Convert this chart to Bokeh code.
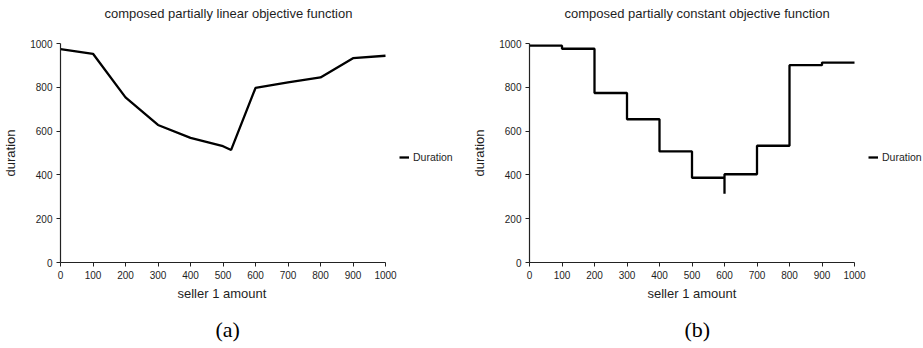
from bokeh.plotting import figure
from bokeh.layouts import row
from bokeh.models import (Range1d, FixedTicker, Legend, LegendItem, Title)
from bokeh.embed import file_html
from bokeh.resources import INLINE

# ---- data ----
lin_x = [0, 100, 200, 300, 400, 500, 525, 600, 700, 800, 900, 1000]
lin_y = [974, 953, 754, 628, 569, 531, 514, 797, 822, 845, 933, 944]

step_edges = [0, 100, 200, 300, 400, 500, 600, 700, 800, 900, 1000]
step_levels = [990, 976, 774, 654, 507, 387, 403, 533, 901, 913]
spike_x = 600
spike_y = 314

x_ticks = [0, 100, 200, 300, 400, 500, 600, 700, 800, 900, 1000]
y_ticks = [0, 200, 400, 600, 800, 1000]

titles = ["composed partially linear objective function",
          "composed partially constant objective function"]
captions = ["(a)", "(b)"]
x_label = "seller 1 amount"
y_label = "duration"
series_name = "Duration"

# build step vertices from the levels
sx, sy = [], []
for i, lvl in enumerate(step_levels):
    x0, x1 = step_edges[i], step_edges[i + 1]
    sx += [x0, x1]
    sy += [lvl, lvl]
    if x1 == spike_x:
        sx.append(spike_x)
        sy.append(spike_y)

FONT = "Liberation Sans"
TXT = "#1e1e1e"

AX_W = 325.0    # pixels spanned by 0..1000 on x
TOP = 43
FRAME_H = 219


def make_fig(xs, ys, title, caption, left, total_w, title_off, xlab_off):
    frame_w = total_w - left
    p = figure(width=total_w, height=348, output_backend="svg",
               toolbar_location=None,
               x_range=Range1d(0, 1000 * frame_w / AX_W),
               y_range=Range1d(0, 1000),
               frame_width=frame_w, frame_height=FRAME_H,
               min_border_left=left, min_border_right=0,
               min_border_top=TOP, min_border_bottom=348 - TOP - FRAME_H)
    p.title = None
    p.outline_line_color = None
    p.xgrid.visible = False
    p.ygrid.visible = False
    p.background_fill_color = "white"
    p.border_fill_color = "white"
    for ax, ticks in ((p.xaxis[0], x_ticks), (p.yaxis[0], y_ticks)):
        ax.ticker = FixedTicker(ticks=ticks)
        ax.bounds = (0, 1000)
        ax.minor_tick_line_color = None
        ax.major_tick_in = 0
        ax.major_tick_out = 4
        ax.axis_line_color = "#222222"
        ax.axis_line_width = 1.2
        ax.major_tick_line_color = "#222222"
        ax.major_tick_line_width = 1
        ax.major_label_text_font = FONT
        ax.major_label_text_font_size = "10px"
        ax.major_label_text_color = TXT
        ax.axis_label_text_font = FONT
        ax.axis_label_text_font_size = "13px"
        ax.axis_label_text_font_style = "normal"
        ax.axis_label_text_color = TXT
    p.yaxis.axis_label = y_label
    p.xaxis.major_label_standoff = 4
    p.yaxis.major_label_standoff = 4
    p.yaxis.axis_label_standoff = 9

    r = p.line(xs, ys, line_color="black", line_width=2.3)

    legend = Legend(items=[LegendItem(label=series_name, renderers=[r])],
                    location=(339, 98), margin=0, padding=0,
                    glyph_width=10, glyph_height=14, label_height=14,
                    label_standoff=4, border_line_color=None,
                    background_fill_alpha=0,
                    label_text_font=FONT, label_text_font_size="10.5px",
                    label_text_color=TXT)
    p.add_layout(legend)

    # above: spacer nearest the frame, then the chart title
    p.add_layout(Title(text=" ", standoff=6, text_font=FONT,
                       text_font_size="13px"), "above")
    p.add_layout(Title(text=title, align="left", offset=title_off, standoff=0,
                       text_font=FONT, text_font_size="13px",
                       text_font_style="normal", text_color=TXT), "above")
    # below: x axis label, then caption
    p.add_layout(Title(text=x_label, align="left", offset=xlab_off, standoff=4,
                       text_font=FONT, text_font_size="13px",
                       text_font_style="normal", text_color=TXT), "below")
    p.add_layout(Title(text=caption, align="left", offset=155, standoff=25,
                       text_font="Liberation Serif", text_font_size="22px",
                       text_font_style="normal", text_color="black"), "below")
    return p


p1 = make_fig(lin_x, lin_y, titles[0], captions[0], 60, 461, 44, 117)
p2 = make_fig(sx, sy, titles[1], captions[1], 68, 462, 35, 118)
layout = row(p1, p2, spacing=0)

open("out.html", "w").write(file_html(layout, INLINE))
